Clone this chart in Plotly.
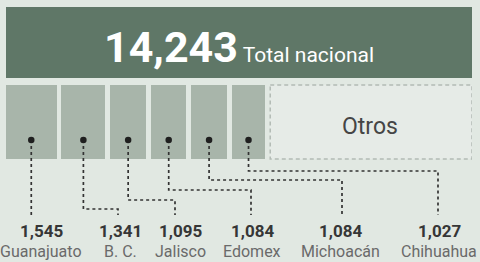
import plotly.graph_objects as go

# ---- data ----
total_label = "Total nacional"
total_value = 14243
states = ["Guanajuato", "B. C.", "Jalisco", "Edomex", "Michoacán", "Chihuahua"]
values = [1545, 1341, 1095, 1084, 1084, 1027]
others_label = "Otros"

# ---- layout constants (pixels) ----
W, H = 480, 262
ML, MR = 6, 8
plot_w = W - ML - MR
gap_u = 150  # gap between boxes, in value units

def px_to_x(px):
    return (px - ML) * total_value / plot_w

BG = "#e1e8e2"
DARK = "#5f7767"
LIGHT = "#a8b5aa"
LINE = "#333333"

starts = []
acc = 0
for i, v in enumerate(values):
    starts.append(acc)
    acc += v + gap_u
others_start = acc
others_width = total_value - others_start
centers = [s + v / 2 for s, v in zip(starts, values)]

row_top_y, row_top_h = 42.5, 71
row_box_y, row_box_h = 122, 74
dot_y = 140
line_end_y = 215
label_line_px = [31, 118, 175, 251, 342, 438]
elbow_y = [None, 209, 200, 190, 180, 171]
label_center_px = [41, 120, 180, 252, 340, 439]

fig = go.Figure()

# total bar
fig.add_trace(go.Bar(orientation="h", y=[row_top_y], x=[total_value], base=[0],
                     width=row_top_h, marker=dict(color=DARK, line=dict(width=0)),
                     hoverinfo="skip", showlegend=False))
# state boxes
fig.add_trace(go.Bar(orientation="h", y=[row_box_y] * len(values), x=values, base=starts,
                     width=row_box_h, marker=dict(color=LIGHT, line=dict(width=0)),
                     hoverinfo="skip", showlegend=False))
# others box
fig.add_trace(go.Bar(orientation="h", y=[row_box_y], x=[others_width], base=[others_start],
                     width=row_box_h, marker=dict(color="#e6ebe7", line=dict(width=0)),
                     hoverinfo="skip", showlegend=False))
x0, x1 = others_start, total_value
y0, y1 = row_box_y - row_box_h / 2, row_box_y + row_box_h / 2
fig.add_trace(go.Scatter(x=[x0, x1, x1, x0, x0], y=[y0, y0, y1, y1, y0], mode="lines",
                         line=dict(color="#b3bbb5", width=1.5, dash="4px,3px"),
                         hoverinfo="skip", showlegend=False))

# connectors
cx, cy = [], []
for i, c in enumerate(centers):
    lx = px_to_x(label_line_px[i])
    if elbow_y[i] is None:
        cx += [c, c, None]
        cy += [dot_y, line_end_y, None]
    else:
        cx += [c, c, lx, lx, None]
        cy += [dot_y, elbow_y[i], elbow_y[i], line_end_y, None]
fig.add_trace(go.Scatter(x=cx, y=cy, mode="lines",
                         line=dict(color=LINE, width=1.7, dash="3px,3px"),
                         hoverinfo="skip", showlegend=False))
# dots
fig.add_trace(go.Scatter(x=centers, y=[dot_y] * len(centers), mode="markers",
                         marker=dict(color="#1f1f1f", size=6.5),
                         hoverinfo="skip", showlegend=False))

ann = []
ann.append(dict(x=px_to_x(239), y=47, xref="x", yref="y",
                text=f"<b>{total_value:,}</b><span style='font-size:21px'> {total_label}</span>",
                showarrow=False, font=dict(family="Roboto", size=43, color="white"),
                xanchor="center", yanchor="middle"))
ann.append(dict(x=px_to_x(370), y=126, xref="x", yref="y", text=others_label,
                showarrow=False, font=dict(family="Roboto", size=23, color="#454545"),
                xanchor="center", yanchor="middle"))
for i, (s, v) in enumerate(zip(states, values)):
    ann.append(dict(x=px_to_x(label_center_px[i]), y=231, xref="x", yref="y",
                    text=f"<b>{v:,}</b>", showarrow=False,
                    font=dict(family="Roboto", size=17, color="#363636"),
                    xanchor="center", yanchor="middle"))
    ann.append(dict(x=px_to_x(label_center_px[i]), y=251, xref="x", yref="y",
                    text=s, showarrow=False,
                    font=dict(family="Roboto", size=16, color="#6a6a6a"),
                    xanchor="center", yanchor="middle"))

fig.update_layout(
    width=W, height=H, margin=dict(l=ML, r=MR, t=0, b=0, pad=0),
    paper_bgcolor=BG, plot_bgcolor=BG, barmode="overlay", bargap=0,
    xaxis=dict(range=[0, total_value], visible=False, fixedrange=True),
    yaxis=dict(range=[H, 0], visible=False, fixedrange=True),
    annotations=ann, showlegend=False,
)

fig.write_html("out.html", config={"displayModeBar": False},
               post_script="document.body.style.margin='0';document.body.style.overflow='hidden';")
